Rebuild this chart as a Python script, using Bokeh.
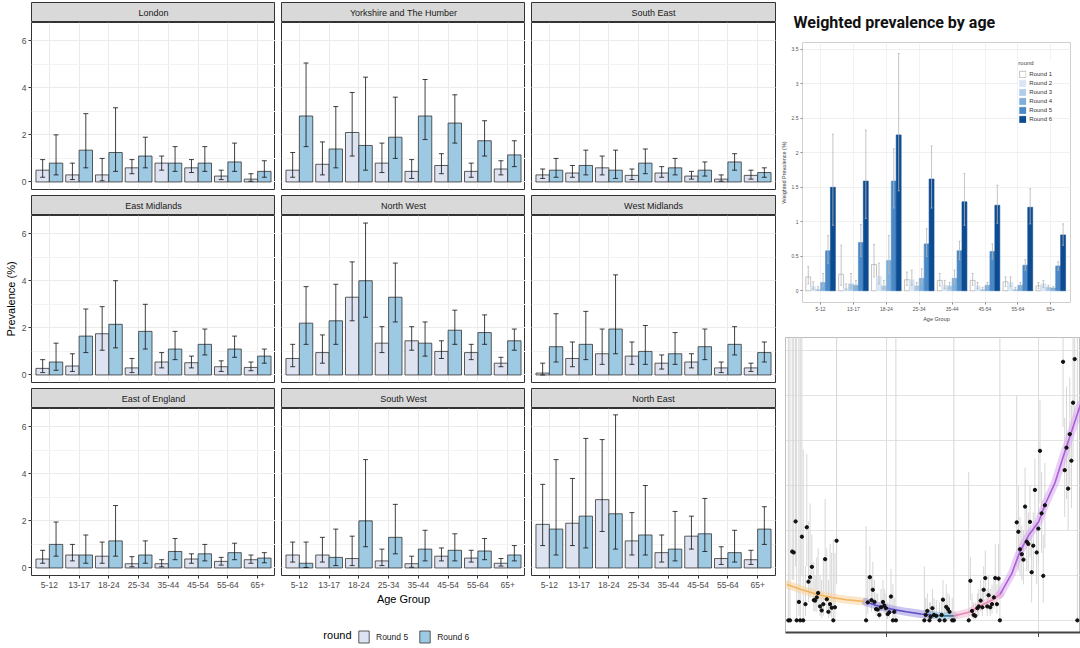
from bokeh.plotting import figure
from bokeh.models import (ColumnDataSource, Whisker, TeeHead, Range1d, FixedTicker,
                          SingleIntervalTicker, Legend, LegendItem, Label)
from bokeh.layouts import row, column
from bokeh.transform import dodge
from bokeh.embed import file_html
from bokeh.resources import INLINE

FONT = "Liberation Sans"
TITLE_FONT = "Roboto"

# ---------------- facet data (prevalence %, Round 5 / Round 6) ----------------
AGES = ["5-12", "13-17", "18-24", "25-34", "35-44", "45-54", "55-64", "65+"]
REGIONS = ["London", "Yorkshire and The Humber", "South East",
           "East Midlands", "North West", "West Midlands",
           "East of England", "South West", "North East"]
ROUND_LABELS = ["Round 5", "Round 6"]

lon_r5 = [0.50, 0.30, 0.30, 0.60, 0.80, 0.60, 0.25, 0.12]
lon_r5_lo = [0.20, 0.10, 0.05, 0.35, 0.50, 0.40, 0.10, 0.03]
lon_r5_hi = [0.95, 0.80, 1.00, 0.95, 1.10, 0.95, 0.50, 0.35]
lon_r6 = [0.80, 1.35, 1.25, 1.10, 0.80, 0.80, 0.85, 0.45]
lon_r6_lo = [0.30, 0.60, 0.45, 0.60, 0.45, 0.45, 0.45, 0.20]
lon_r6_hi = [2.00, 2.90, 3.15, 1.90, 1.50, 1.50, 1.65, 0.90]

yor_r5 = [0.50, 0.75, 2.10, 0.80, 0.45, 0.70, 0.45, 0.55]
yor_r5_lo = [0.20, 0.30, 1.10, 0.40, 0.15, 0.35, 0.20, 0.30]
yor_r5_hi = [1.25, 1.70, 3.80, 1.65, 0.95, 1.20, 0.80, 0.90]
yor_r6 = [2.80, 1.40, 1.55, 1.90, 2.80, 2.50, 1.75, 1.15]
yor_r6_lo = [1.50, 0.60, 0.50, 1.00, 1.80, 1.65, 1.10, 0.65]
yor_r6_hi = [5.05, 3.20, 4.45, 3.60, 4.35, 3.70, 2.60, 1.75]

se_r5 = [0.30, 0.38, 0.60, 0.28, 0.38, 0.25, 0.12, 0.28]
se_r5_lo = [0.15, 0.20, 0.30, 0.10, 0.20, 0.12, 0.03, 0.12]
se_r5_hi = [0.55, 0.70, 1.10, 0.55, 0.65, 0.45, 0.30, 0.50]
se_r6 = [0.50, 0.70, 0.50, 0.80, 0.60, 0.50, 0.85, 0.40]
se_r6_lo = [0.20, 0.30, 0.15, 0.35, 0.30, 0.25, 0.50, 0.20]
se_r6_hi = [1.00, 1.35, 1.35, 1.40, 1.00, 0.85, 1.20, 0.60]

em_r5 = [0.28, 0.38, 1.75, 0.30, 0.55, 0.52, 0.35, 0.32]
em_r5_lo = [0.10, 0.15, 1.05, 0.10, 0.30, 0.30, 0.15, 0.18]
em_r5_hi = [0.65, 0.90, 2.90, 0.70, 0.95, 0.80, 0.60, 0.55]
em_r6 = [0.55, 1.65, 2.15, 1.85, 1.10, 1.30, 1.10, 0.80]
em_r6_lo = [0.20, 0.95, 1.15, 1.10, 0.65, 0.85, 0.75, 0.50]
em_r6_hi = [1.35, 2.80, 4.00, 3.00, 1.85, 1.95, 1.65, 1.10]

nw_r5 = [0.70, 0.95, 3.30, 1.35, 1.45, 1.00, 0.95, 0.50]
nw_r5_lo = [0.35, 0.50, 2.30, 0.95, 1.05, 0.70, 0.65, 0.35]
nw_r5_hi = [1.30, 1.70, 4.80, 2.05, 2.05, 1.45, 1.30, 0.75]
nw_r6 = [2.20, 2.30, 4.00, 3.30, 1.35, 1.90, 1.80, 1.45]
nw_r6_lo = [1.30, 1.30, 2.45, 2.25, 0.80, 1.30, 1.30, 1.05]
nw_r6_hi = [3.75, 3.85, 6.45, 4.75, 2.25, 2.75, 2.55, 1.95]

wm_r5 = [0.08, 0.70, 0.90, 0.80, 0.50, 0.55, 0.30, 0.30]
wm_r5_lo = [0.00, 0.35, 0.45, 0.45, 0.25, 0.30, 0.10, 0.15]
wm_r5_hi = [0.50, 1.40, 1.95, 1.40, 0.85, 0.90, 0.55, 0.50]
wm_r6 = [1.20, 1.30, 1.95, 1.00, 0.90, 1.20, 1.30, 0.95]
wm_r6_lo = [0.55, 0.65, 0.90, 0.45, 0.45, 0.65, 0.85, 0.55]
wm_r6_hi = [2.60, 2.70, 4.25, 2.10, 1.80, 1.95, 2.05, 1.40]

ee_r5 = [0.38, 0.55, 0.50, 0.18, 0.18, 0.38, 0.28, 0.35]
ee_r5_lo = [0.20, 0.30, 0.20, 0.05, 0.05, 0.20, 0.12, 0.20]
ee_r5_hi = [0.75, 1.00, 1.10, 0.48, 0.35, 0.60, 0.45, 0.55]
ee_r6 = [1.00, 0.55, 1.15, 0.55, 0.70, 0.60, 0.65, 0.42]
ee_r6_lo = [0.50, 0.20, 0.50, 0.20, 0.35, 0.30, 0.35, 0.22]
ee_r6_hi = [1.95, 1.40, 2.65, 1.15, 1.25, 1.00, 1.05, 0.65]

sw_r5 = [0.55, 0.55, 0.40, 0.30, 0.18, 0.50, 0.42, 0.20]
sw_r5_lo = [0.25, 0.25, 0.10, 0.10, 0.03, 0.30, 0.25, 0.08]
sw_r5_hi = [1.10, 1.30, 1.35, 0.80, 0.50, 0.85, 0.75, 0.40]
sw_r6 = [0.20, 0.45, 2.00, 1.30, 0.80, 0.75, 0.72, 0.55]
sw_r6_lo = [0.02, 0.10, 0.90, 0.60, 0.30, 0.30, 0.35, 0.30]
sw_r6_hi = [1.10, 1.65, 4.60, 2.70, 1.60, 1.45, 1.25, 0.95]

ne_r5 = [1.85, 1.90, 2.90, 1.15, 0.65, 1.35, 0.40, 0.35]
ne_r5_lo = [0.95, 0.95, 1.55, 0.55, 0.25, 0.80, 0.15, 0.15]
ne_r5_hi = [3.55, 3.80, 5.45, 2.35, 1.40, 2.20, 0.90, 0.75]
ne_r6 = [1.65, 2.20, 2.30, 1.40, 0.80, 1.45, 0.65, 1.65]
ne_r6_lo = [0.55, 0.85, 0.80, 0.55, 0.30, 0.70, 0.25, 1.00]
ne_r6_hi = [4.60, 5.50, 6.50, 3.50, 2.40, 2.95, 1.60, 2.60]

PANELS = [
    (lon_r5, lon_r5_lo, lon_r5_hi, lon_r6, lon_r6_lo, lon_r6_hi),
    (yor_r5, yor_r5_lo, yor_r5_hi, yor_r6, yor_r6_lo, yor_r6_hi),
    (se_r5, se_r5_lo, se_r5_hi, se_r6, se_r6_lo, se_r6_hi),
    (em_r5, em_r5_lo, em_r5_hi, em_r6, em_r6_lo, em_r6_hi),
    (nw_r5, nw_r5_lo, nw_r5_hi, nw_r6, nw_r6_lo, nw_r6_hi),
    (wm_r5, wm_r5_lo, wm_r5_hi, wm_r6, wm_r6_lo, wm_r6_hi),
    (ee_r5, ee_r5_lo, ee_r5_hi, ee_r6, ee_r6_lo, ee_r6_hi),
    (sw_r5, sw_r5_lo, sw_r5_hi, sw_r6, sw_r6_lo, sw_r6_hi),
    (ne_r5, ne_r5_lo, ne_r5_hi, ne_r6, ne_r6_lo, ne_r6_hi),
]

# ---------------- weighted prevalence by age (rounds 1-6) ----------------
W_ROUNDS = ["Round 1", "Round 2", "Round 3", "Round 4", "Round 5", "Round 6"]
w_r1 = [0.20, 0.24, 0.38, 0.16, 0.15, 0.15, 0.13, 0.07]
w_r1_lo = [0.10, 0.08, 0.20, 0.08, 0.07, 0.08, 0.06, 0.03]
w_r1_hi = [0.35, 0.66, 0.67, 0.27, 0.25, 0.25, 0.20, 0.12]
w_r2 = [0.06, 0.04, 0.21, 0.16, 0.08, 0.07, 0.12, 0.10]
w_r2_lo = [0.02, 0.01, 0.10, 0.08, 0.03, 0.03, 0.06, 0.05]
w_r2_hi = [0.13, 0.10, 0.40, 0.30, 0.15, 0.12, 0.20, 0.15]
w_r3 = [0.02, 0.10, 0.07, 0.07, 0.07, 0.02, 0.02, 0.05]
w_r3_lo = [0.005, 0.04, 0.03, 0.03, 0.03, 0.005, 0.005, 0.02]
w_r3_hi = [0.06, 0.25, 0.15, 0.12, 0.12, 0.05, 0.05, 0.08]
w_r4 = [0.12, 0.08, 0.44, 0.18, 0.18, 0.08, 0.08, 0.04]
w_r4_lo = [0.06, 0.04, 0.25, 0.10, 0.10, 0.04, 0.04, 0.02]
w_r4_hi = [0.25, 0.15, 0.80, 0.32, 0.30, 0.12, 0.12, 0.06]
w_r5 = [0.58, 0.70, 1.59, 0.68, 0.58, 0.57, 0.37, 0.36]
w_r5_lo = [0.40, 0.50, 1.20, 0.50, 0.45, 0.46, 0.30, 0.30]
w_r5_hi = [0.80, 0.96, 2.06, 0.90, 0.72, 0.68, 0.45, 0.42]
w_r6 = [1.50, 1.59, 2.26, 1.62, 1.29, 1.24, 1.21, 0.81]
w_r6_lo = [0.95, 1.05, 1.45, 1.20, 0.95, 0.98, 0.97, 0.66]
w_r6_hi = [2.27, 2.33, 3.44, 2.10, 1.70, 1.53, 1.48, 0.97]
W_VALUES = [(w_r1, w_r1_lo, w_r1_hi), (w_r2, w_r2_lo, w_r2_hi), (w_r3, w_r3_lo, w_r3_hi),
            (w_r4, w_r4_lo, w_r4_hi), (w_r5, w_r5_lo, w_r5_hi), (w_r6, w_r6_lo, w_r6_hi)]
W_TICKS = [0, 0.5, 1, 1.5, 2, 2.5, 3, 3.5]

# ---------------- daily prevalence time series ----------------
ts_day = [0.9, 2.0, 3.5, 4.5, 5.8, 6.5, 8.0, 8.9, 10.0, 10.9, 12.4, 13.3, 14.4, 15.5, 16.7, 18.0,
          18.9, 20.0, 20.9, 22.2, 23.3, 24.4, 25.6, 26.7, 27.8, 28.9, 30.0, 31.1, 32.2, 33.3,
          53.1, 54.2, 55.6, 56.7, 57.6, 58.7, 59.8, 60.9, 62.0, 63.1, 64.4, 65.3, 66.4, 67.6,
          68.7, 69.8, 71.1, 72.0, 73.1,
          92.2, 93.1, 94.2, 95.6, 96.4, 97.6, 98.7, 100.2, 102.4, 103.8, 104.7, 105.8, 106.9,
          108.0, 109.1, 110.9, 112.0,
          122.0, 123.1, 124.2, 125.3, 126.4, 127.8, 128.7, 130.0, 131.1, 132.0, 133.1, 134.4,
          135.3, 136.4, 137.6, 138.9, 139.8, 140.9, 142.0, 142.9,
          154.2, 155.3, 156.4, 157.6, 158.7, 159.8, 160.9, 162.0, 163.1, 164.2, 165.3, 166.4,
          167.6, 168.7, 169.8, 170.9, 172.0, 173.1,
          185.3, 186.4, 187.6, 188.7, 189.8, 190.9, 192.0, 193.1, 194.9]
ts_val = [0, 0, 1.53, 1.51, 2.2, 0, 0.41, 0, 1.86, 0, 0.36, 2.07, 0.86, 0.96, 1.19, 0.45,
          0.44, 0.51, 0.61, 0.31, 0.22, 0.36, 1.36, 0.47, 0.19, 0.36, 0.28, 0, 0.29, 1.77,
          0, 0.4, 0.96, 0.45, 0.68, 0.41, 0.25, 0.24, 0.12, 0.29, 0.41, 0.33, 0.27, 0.14,
          0.18, 0.53, 0, 0.19, 0,
          0, 0.12, 0.21, 0, 0.08, 0.27, 0.12, 0.1, 0, 0.12, 0.46, 0, 0.3,
          0.25, 0.19, 0, 0,
          0, 0.88, 0.21, 0.12, 0.1, 0.27, 0.31, 0.44, 0.29, 0.68, 0.94, 0.31,
          0.56, 0.29, 0.36, 0.51, 0.94, 0.36, 0.93, 0,
          2.18, 1.97, 1.58, 1.47, 1.35, 2.53, 1.75, 1.70, 2.19, 1.07, 1.66, 2.90,
          1.51, 2.04, 3.77, 2.38, 0.99, 2.56,
          5.75, 3.34, 3.84, 2.93, 4.14, 3.55, 4.84, 5.81, 0]
ts_lo = [0, 0, 0.9, 0.9, 1.2, 0, 0.1, 0, 1.0, 0, 0.1, 1.2, 0.4, 0.5, 0.6, 0.2,
         0.2, 0.2, 0.3, 0.1, 0.05, 0.1, 0.6, 0.15, 0.05, 0.1, 0.05, 0, 0.05, 0.8,
         0, 0.15, 0.5, 0.2, 0.35, 0.2, 0.1, 0.1, 0.03, 0.1, 0.2, 0.15, 0.1, 0.03,
         0.05, 0.25, 0, 0.05, 0,
         0, 0.03, 0.05, 0, 0.02, 0.08, 0.03, 0.02, 0, 0.03, 0.2, 0, 0.1,
         0.08, 0.05, 0, 0,
         0, 0.45, 0.05, 0.03, 0.02, 0.1, 0.1, 0.2, 0.1, 0.35, 0.5, 0.1,
         0.25, 0.1, 0.15, 0.25, 0.5, 0.15, 0.5, 0,
         1.2, 1.1, 1.0, 0.9, 0.8, 1.7, 1.1, 1.1, 1.4, 0.4, 1.0, 2.1,
         0.8, 1.3, 2.6, 1.5, 0.4, 1.6,
         4.3, 2.3, 2.7, 2.0, 3.0, 2.5, 3.6, 4.5, 0]
ts_hi = [7, 7, 7, 7, 7, 7, 7, 7, 7, 3.8, 1.2, 3.7, 2.2, 2.6, 1.9, 1.3,
         1.0, 1.4, 1.6, 1.0, 0.9, 1.4, 2.7, 1.6, 0.9, 1.7, 1.5, 1.8, 1.5, 7,
         2.1, 1.0, 1.65, 1.0, 1.3, 0.9, 0.6, 0.6, 0.4, 0.7, 0.9, 0.7, 0.6, 0.4,
         0.5, 1.15, 0.8, 0.5, 7,
         1.2, 0.5, 0.6, 0.4, 0.4, 0.7, 0.5, 0.45, 0.4, 0.5, 0.9, 0.45, 0.8,
         0.6, 0.55, 0.5, 7,
         3.3, 1.4, 0.6, 0.4, 0.4, 0.6, 0.7, 0.9, 0.7, 1.2, 1.56, 0.7,
         1.0, 0.7, 0.8, 1.0, 1.7, 0.8, 1.7, 7,
         5.0, 3.0, 2.3, 2.1, 2.0, 3.4, 2.5, 2.4, 3.0, 1.9, 2.4, 3.6,
         2.2, 3.0, 4.9, 3.3, 1.9, 3.5,
         7, 4.5, 5.2, 4.0, 5.4, 4.8, 7, 7, 7]

fit_orange_day = [0, 10, 20, 30, 40, 52]
fit_orange_val = [0.80, 0.68, 0.58, 0.51, 0.46, 0.42]
fit_purple_day = [53, 60, 70, 80, 90, 97]
fit_purple_val = [0.41, 0.33, 0.25, 0.19, 0.14, 0.12]
fit_teal_day = [97, 104, 112]
fit_teal_val = [0.12, 0.10, 0.10]
fit_pink_day = [112, 122, 131, 138, 143]
fit_pink_val = [0.10, 0.18, 0.34, 0.46, 0.58]
fit_violet_day = [143, 151, 156, 162, 169, 173, 180, 186, 193, 197]
fit_violet_val = [0.58, 1.05, 1.50, 1.88, 2.20, 2.56, 3.07, 3.70, 4.40, 4.80]

# ---------------- styles ----------------
C5 = "#dde3f1"
C6 = "#9ec9e2"
W_COLORS = ["#ffffff", "#d9e6f5", "#b2cde9", "#7eafdb", "#4a89c6", "#0e4c92"]
FW, FH, SH = 244, 167, 20
LEFT_B, GAP, RIGHT_B, ROW_GAP = 31, 6, 2, 6


def make_strip(name, ri, ci):
    s = figure(frame_width=FW, frame_height=SH, x_range=Range1d(0, 1), y_range=Range1d(0, 1),
               x_axis_location=None, y_axis_location=None,
               output_backend="svg", toolbar_location=None,
               min_border_left=LEFT_B if ci == 0 else GAP,
               min_border_right=RIGHT_B if ci == 2 else 0,
               min_border_top=2 if ri == 0 else 0, min_border_bottom=0)
    s.grid.visible = False
    s.background_fill_color = "#d9d9d9"
    s.border_fill_color = "white"
    s.outline_line_color = "#333333"
    s.add_layout(Label(x=0.5, y=0.5, text=name, text_align="center", text_baseline="middle",
                       text_font=FONT, text_font_size="9px", text_color="#1a1a1a"))
    return s


def style_axis(ax):
    ax.axis_line_color = None
    ax.major_tick_line_color = "#333333"
    ax.major_tick_out = 3
    ax.major_tick_in = 0
    ax.minor_tick_line_color = None
    ax.major_label_text_font = FONT
    ax.major_label_text_font_size = "8.5px"
    ax.major_label_text_color = "#4d4d4d"
    ax.major_label_standoff = 1
    ax.axis_label_text_font = FONT
    ax.axis_label_text_font_size = "11px"
    ax.axis_label_text_font_style = "normal"
    ax.axis_label_text_color = "#000000"
    ax.axis_label_standoff = 2


def make_panel(idx, src):
    ri, ci = divmod(idx, 3)
    bottom = ri == 2
    p = figure(frame_width=FW, frame_height=FH,
               x_range=Range1d(0.4, 8.6), y_range=Range1d(-0.32, 6.77),
               x_axis_location="below" if bottom else None,
               y_axis_location="left" if ci == 0 else None,
               output_backend="svg", toolbar_location=None,
               min_border_left=LEFT_B if ci == 0 else GAP,
               min_border_right=RIGHT_B if ci == 2 else 0,
               min_border_top=0, min_border_bottom=0 if bottom else ROW_GAP)
    p.background_fill_color = "white"
    p.border_fill_color = "white"
    p.outline_line_color = "#333333"
    xs = list(range(1, len(AGES) + 1))
    yt = SingleIntervalTicker(interval=2, num_minor_ticks=2)
    xt = FixedTicker(ticks=xs)
    p.ygrid.ticker = yt
    p.xgrid.ticker = xt
    p.ygrid.grid_line_color = "#ebebeb"
    p.ygrid.minor_grid_line_color = "#f3f3f3"
    p.xgrid.grid_line_color = "#ebebeb"
    p.vbar(x=dodge("x", -0.225), top="r5", width=0.45, source=src,
           fill_color=C5, line_color="#333333", line_width=0.8)
    p.vbar(x=dodge("x", 0.225), top="r6", width=0.45, source=src,
           fill_color=C6, line_color="#333333", line_width=0.8)
    for key, off in (("r5", -0.225), ("r6", 0.225)):
        p.add_layout(Whisker(source=src, base=dodge("x", off), upper=key + "hi", lower=key + "lo",
                             level="overlay", line_color="#111111", line_width=0.8,
                             upper_head=TeeHead(size=5, line_color="#111111", line_width=0.8),
                             lower_head=TeeHead(size=5, line_color="#111111", line_width=0.8)))
    if ci == 0:
        ax = p.yaxis[0]
        ax.ticker = yt
        ax.axis_label = "Prevalence (%)" if ri == 1 else " "
        style_axis(ax)
    if bottom:
        ax = p.xaxis[0]
        ax.ticker = xt
        ax.major_label_overrides = {i + 1: a for i, a in enumerate(AGES)}
        ax.axis_label = "Age Group" if ci == 1 else " "
        style_axis(ax)
        ax.major_label_standoff = 3
    return p


sources = []
for d in PANELS:
    r5, r5lo, r5hi, r6, r6lo, r6hi = d
    sources.append(ColumnDataSource(dict(x=list(range(1, len(AGES) + 1)), r5=r5, r5lo=r5lo, r5hi=r5hi,
                                         r6=r6, r6lo=r6lo, r6hi=r6hi)))

rows = []
for ri in range(3):
    strips, panels = [], []
    for ci in range(3):
        idx = ri * 3 + ci
        strips.append(make_strip(REGIONS[idx], ri, ci))
        panels.append(make_panel(idx, sources[idx]))
    rows.append(row(strips))
    rows.append(row(panels))

# legend strip under the facets (proxy renderers are hidden; only their legend keys show)
lf = figure(frame_width=3 * FW + 2 * GAP, frame_height=38, x_range=Range1d(0.4, 8.6), y_range=Range1d(0, 1),
            x_axis_location=None, y_axis_location=None, output_backend="svg", toolbar_location=None,
            min_border_left=LEFT_B, min_border_right=RIGHT_B, min_border_top=0, min_border_bottom=0)
lf.grid.visible = False
lf.outline_line_color = None
lg5 = lf.vbar(x="x", top="r5", width=0.45, source=sources[7], fill_color=C5,
              line_color="#333333", line_width=0.8, visible=False)
lg6 = lf.vbar(x="x", top="r6", width=0.45, source=sources[7], fill_color=C6,
              line_color="#333333", line_width=0.8, visible=False)
leg = Legend(items=[LegendItem(label=ROUND_LABELS[0], renderers=[lg5]),
                    LegendItem(label=ROUND_LABELS[1], renderers=[lg6])],
             orientation="horizontal", location=(326, 1), margin=0, padding=2,
             spacing=10, glyph_width=13, glyph_height=15, label_height=15, label_standoff=6,
             label_text_font=FONT, label_text_font_size="8.5px", label_text_color="#1a1a1a",
             border_line_color=None, background_fill_alpha=0)
lf.add_layout(leg)
lf.add_layout(Label(x=320, y=11, x_units="screen", y_units="screen", text="round",
                    text_align="right", text_baseline="middle", text_font=FONT,
                    text_font_size="11px", text_color="#000000"))
rows.append(lf)
left_block = column(rows)

# ---------------- weighted prevalence by age ----------------
tr = figure(frame_width=268, frame_height=260, x_range=Range1d(0.45, 8.6), y_range=Range1d(-0.17, 3.6),
            output_backend="svg", toolbar_location=None, title="Weighted prevalence by age",
            min_border_left=20, min_border_right=6, min_border_top=2, min_border_bottom=2)
tr.title.text_font = TITLE_FONT
tr.title.text_font_size = "16px"
tr.title.text_font_style = "bold"
tr.title.text_color = "#111111"
tr.title.align = "left"
tr.title.offset = -9
tr.title.standoff = 21
tr.background_fill_color = "white"
tr.outline_line_color = "#d0d0d0"
wx = list(range(1, len(AGES) + 1))
wsrc = {"x": wx}
for i, (v, lo, hi) in enumerate(W_VALUES):
    wsrc[f"v{i}"] = v
    wsrc[f"lo{i}"] = lo
    wsrc[f"hi{i}"] = hi
wsrc = ColumnDataSource(wsrc)
w_items = []
for i in range(6):
    off = (i - 2.5) * 0.15
    r = tr.vbar(x=dodge("x", off), top=f"v{i}", width=0.15, source=wsrc,
                fill_color=W_COLORS[i], line_color="#9a9a9a" if i == 0 else W_COLORS[i], line_width=0.6)
    tr.add_layout(Whisker(source=wsrc, base=dodge("x", off), upper=f"hi{i}", lower=f"lo{i}",
                          level="overlay", line_color="#b5b5b5", line_width=0.8,
                          upper_head=TeeHead(size=2, line_color="#b5b5b5", line_width=0.8),
                          lower_head=TeeHead(size=2, line_color="#b5b5b5", line_width=0.8)))
    w_items.append(LegendItem(label=W_ROUNDS[i], renderers=[r]))
wleg = Legend(items=w_items, location="top_right", title="round", margin=18, padding=3, spacing=0,
              glyph_width=8, glyph_height=8, label_height=9, label_standoff=3,
              label_text_font=FONT, label_text_font_size="6px", label_text_color="#333333",
              title_text_font=FONT, title_text_font_size="6px", title_text_font_style="normal",
              title_standoff=3, border_line_color=None, background_fill_color="white")
tr.add_layout(wleg)
tr.xgrid.ticker = FixedTicker(ticks=wx)
tr.xgrid.grid_line_color = "#f2f2f2"
tr.ygrid.ticker = FixedTicker(ticks=W_TICKS)
tr.ygrid.grid_line_color = "#f0f0f0"
tr.xaxis.ticker = FixedTicker(ticks=wx)
tr.xaxis.major_label_overrides = {i + 1: a for i, a in enumerate(AGES)}
tr.yaxis.ticker = FixedTicker(ticks=W_TICKS)
tr.yaxis.major_label_overrides = {0: "0", 0.5: "0.5", 1: "1", 1.5: "1.5", 2: "2", 2.5: "2.5", 3: "3", 3.5: "3.5"}
tr.xaxis.axis_label = "Age Group"
tr.yaxis.axis_label = "Weighted Prevalence (%)"
for ax in (tr.xaxis[0], tr.yaxis[0]):
    ax.axis_line_color = None
    ax.major_tick_line_color = "#888888"
    ax.major_tick_out = 2
    ax.major_tick_in = 0
    ax.minor_tick_line_color = None
    ax.major_label_text_font = FONT
    ax.major_label_text_font_size = "5px"
    ax.major_label_text_color = "#555555"
    ax.major_label_standoff = 2
    ax.axis_label_text_font = FONT
    ax.axis_label_text_font_size = "5.5px"
    ax.axis_label_text_font_style = "normal"
    ax.axis_label_text_color = "#444444"
    ax.axis_label_standoff = 2

# ---------------- daily prevalence series ----------------
br = figure(frame_width=295, frame_height=295, x_range=Range1d(-1, 197), y_range=Range1d(-0.27, 6.29),
            y_axis_location=None, output_backend="svg", toolbar_location=None,
            min_border_left=8, min_border_right=0, min_border_top=13, min_border_bottom=0)
br.background_fill_color = "white"
br.outline_line_color = "#bdbdbd"
br.ygrid.ticker = SingleIntervalTicker(interval=1, num_minor_ticks=0)
br.ygrid.grid_line_color = "#e3e3e3"
bx_ticks = FixedTicker(ticks=[67, 169])
br.xgrid.ticker = bx_ticks
br.xgrid.grid_line_color = "#dddddd"
br.xaxis.ticker = bx_ticks
br.xaxis.axis_line_color = "#444444"
br.xaxis.axis_line_width = 2
br.xaxis.major_tick_line_color = "#444444"
br.xaxis.major_tick_out = 5
br.xaxis.major_tick_in = 0
br.xaxis.minor_tick_line_color = None
br.xaxis.major_label_text_color = None
br.xaxis.major_label_text_font_size = "5px"
br.xaxis.major_label_standoff = 1
tsrc = ColumnDataSource(dict(day=ts_day, val=ts_val, lo=ts_lo, hi=ts_hi))
br.segment(x0="day", y0="lo", x1="day", y1="hi", source=tsrc, line_color="#d6d6d6", line_width=1)
fits = [(fit_orange_day, fit_orange_val, "#f2b55e", "#f7d29c"),
        (fit_purple_day, fit_purple_val, "#5b4fc4", "#9d94e3"),
        (fit_teal_day, fit_teal_val, "#3f7f9f", "#8fbfd2"),
        (fit_pink_day, fit_pink_val, "#e58bb6", "#f2bdd6"),
        (fit_violet_day, fit_violet_val, "#a95fd6", "#d9a8ef")]
for fd, fv, lc, bc in fits:
    br.line(fd, fv, line_color=bc, line_width=8, line_alpha=0.55, line_cap="round")
for fd, fv, lc, bc in fits:
    br.line(fd, fv, line_color=lc, line_width=1.6)
br.scatter(x="day", y="val", source=tsrc, size=3.3, fill_color="#111111", line_color="#111111")

right_block = column(row(tr), row(br))
root = row(left_block, right_block)

open("out.html", "w").write(file_html(root, INLINE))
